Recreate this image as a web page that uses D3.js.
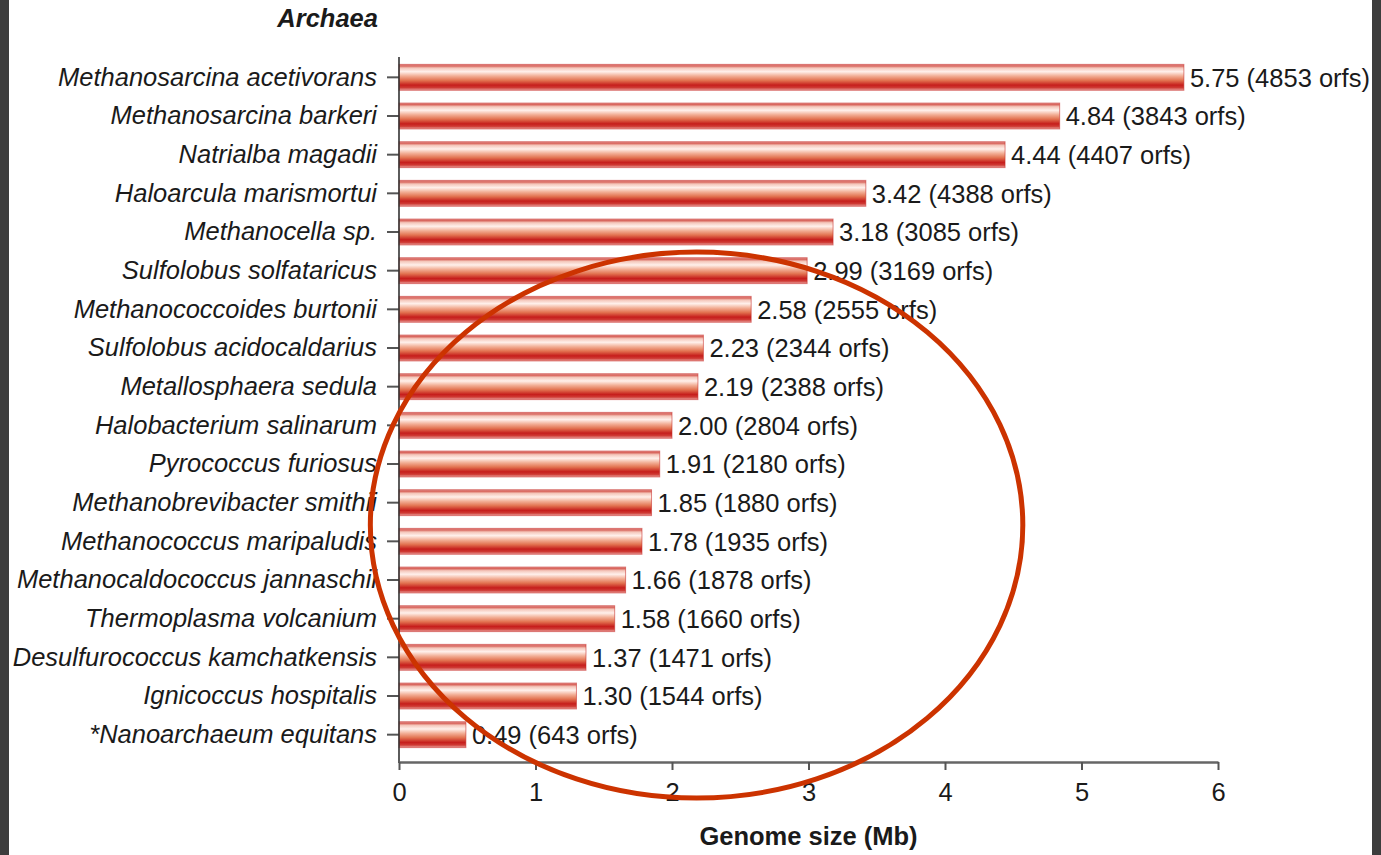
<!DOCTYPE html>
<html>
<head>
<meta charset="utf-8">
<script src="https://cdn.jsdelivr.net/npm/d3@7"></script>
<style>
  html, body { margin: 0; padding: 0; background: #fff; }
  svg { display: block; }
  text { font-family: "Liberation Sans", Arial, Helvetica, sans-serif; fill: #1a1a1a; }
</style>
</head>
<body>
<script>
// Archaeal genome sizes (Mb) and number of open reading frames
const species = [
  "Methanosarcina acetivorans",
  "Methanosarcina barkeri",
  "Natrialba magadii",
  "Haloarcula marismortui",
  "Methanocella sp.",
  "Sulfolobus solfataricus",
  "Methanococcoides burtonii",
  "Sulfolobus acidocaldarius",
  "Metallosphaera sedula",
  "Halobacterium salinarum",
  "Pyrococcus furiosus",
  "Methanobrevibacter smithii",
  "Methanococcus maripaludis",
  "Methanocaldococcus jannaschii",
  "Thermoplasma volcanium",
  "Desulfurococcus kamchatkensis",
  "Ignicoccus hospitalis",
  "*Nanoarchaeum equitans"
];
const genomeSize = [5.75, 4.84, 4.44, 3.42, 3.18, 2.99, 2.58, 2.23, 2.19, 2.00,
                    1.91, 1.85, 1.78, 1.66, 1.58, 1.37, 1.30, 0.49];
const orfs = [4853, 3843, 4407, 4388, 3085, 3169, 2555, 2344, 2388, 2804,
              2180, 1880, 1935, 1878, 1660, 1471, 1544, 643];
const xTicks = [0, 1, 2, 3, 4, 5, 6];

// Highlight ring, in data units (x in Mb, y in rows from the top)
const ringCenter = { mb: 2.18, row: 12.08 };
const ringRadius = { mb: 2.39, rows: 7.06 };

const W = 1381, H = 855;
const FS = 25.5;
const svg = d3.select("body").append("svg").attr("width", W).attr("height", H);

const x = d3.scaleLinear().domain([0, 6]).range([399, 1218]);
const y = d3.scaleBand().domain(species).range([58, 754]).paddingInner(0.33).paddingOuter(0.165);
const rowY = d3.scaleLinear().domain([0, species.length]).range([58, 754]);

// Cylinder-style shading for the bars
const defs = svg.append("defs");
const grad = defs.append("linearGradient").attr("id", "barShade")
  .attr("x1", 0).attr("y1", 0).attr("x2", 0).attr("y2", 1);
[
  [0, "#e8a09e"], [0.06, "#d8635a"], [0.14, "#f4c6ba"], [0.28, "#fff0eb"],
  [0.45, "#f2ae95"], [0.62, "#e27250"], [0.80, "#c61e1c"], [0.90, "#cf3a34"],
  [1, "#eba4a0"]
].forEach(([o, c]) => grad.append("stop").attr("offset", o).attr("stop-color", c));

// Dark frame strips at the page edges
svg.append("rect").attr("x", 0).attr("y", 0).attr("width", 9).attr("height", H).attr("fill", "#3d3d3d");
svg.append("rect").attr("x", 1372).attr("y", 0).attr("width", 9).attr("height", H).attr("fill", "#3d3d3d");

// Bars
svg.append("g").selectAll("rect").data(species).join("rect")
  .attr("x", x(0))
  .attr("y", d => y(d))
  .attr("width", (d, i) => x(genomeSize[i]) - x(0))
  .attr("height", y.bandwidth())
  .attr("fill", "url(#barShade)")
  .attr("stroke", "rgba(196,40,36,0.55)")
  .attr("stroke-width", 1);

// Value labels
svg.append("g").selectAll("text").data(species).join("text")
  .attr("x", (d, i) => x(genomeSize[i]) + 6)
  .attr("y", d => y(d) + y.bandwidth() / 2)
  .attr("dy", "0.36em")
  .attr("font-size", FS)
  .text((d, i) => `${genomeSize[i].toFixed(2)} (${orfs[i]} orfs)`);

// Category axis
const yAxis = svg.append("g").attr("transform", `translate(${x(0)},0)`)
  .call(d3.axisLeft(y).tickSize(12).tickPadding(9).tickSizeOuter(0));
yAxis.select(".domain").remove();
yAxis.selectAll(".tick line").attr("stroke", "#555").attr("stroke-width", 2);
yAxis.selectAll(".tick text")
  .attr("font-size", FS).attr("font-style", "italic")
  .attr("font-family", "Liberation Sans, Arial, sans-serif").attr("fill", "#1a1a1a")
  .attr("dx", -1);
svg.append("line").attr("x1", x(0)).attr("x2", x(0)).attr("y1", 57).attr("y2", 763)
  .attr("stroke", "#333").attr("stroke-width", 1.6);

// Value axis
const xAxis = svg.append("g").attr("transform", "translate(0,762)")
  .call(d3.axisBottom(x).tickValues(xTicks).tickFormat(d3.format("d")).tickSize(8).tickSizeOuter(0).tickPadding(13));
xAxis.select(".domain").attr("stroke", "#666").attr("stroke-width", 2.4);
xAxis.selectAll(".tick line").attr("stroke", "#555").attr("stroke-width", 2);
xAxis.selectAll(".tick text").attr("font-size", FS).attr("fill", "#1a1a1a")
  .attr("font-family", "Liberation Sans, Arial, sans-serif");

// Titles
svg.append("text").attr("x", 378).attr("y", 27).attr("text-anchor", "end")
  .attr("font-size", FS).attr("font-weight", "bold").attr("font-style", "italic")
  .text("Archaea");
svg.append("text").attr("x", x(3)).attr("y", 845).attr("text-anchor", "middle")
  .attr("font-size", FS).attr("font-weight", "bold")
  .text("Genome size (Mb)");

// Highlight ring
svg.append("ellipse")
  .attr("cx", x(ringCenter.mb))
  .attr("cy", rowY(ringCenter.row))
  .attr("rx", x(ringRadius.mb) - x(0))
  .attr("ry", rowY(ringRadius.rows) - rowY(0))
  .attr("fill", "none")
  .attr("stroke", "#cc3300")
  .attr("stroke-width", 5);
</script>
</body>
</html>
